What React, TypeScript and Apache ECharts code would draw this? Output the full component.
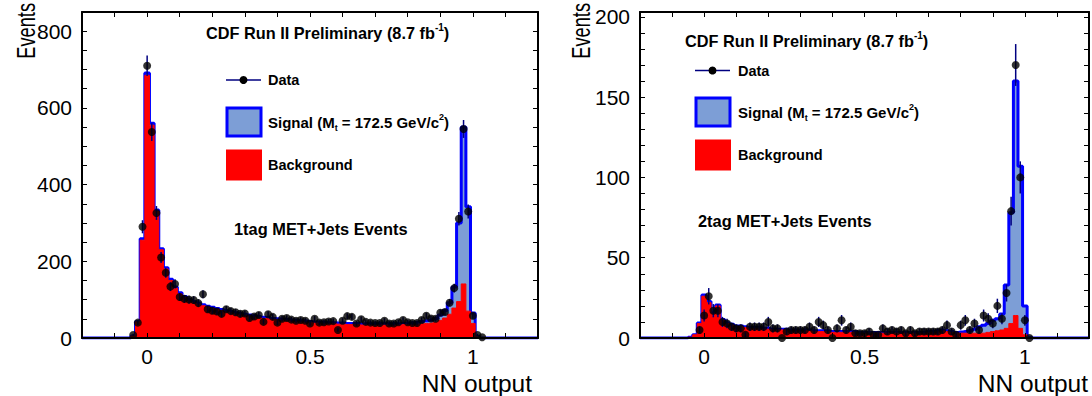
import React, { useEffect, useRef } from "react";
import * as echarts from "echarts";

// Bin layout: bins of width 1/70, contents listed for bins k = -3 .. 72 (centre k/70)
const BINS_PER_UNIT = 70;
const FIRST_BIN = -3;
const PAD_FIRST = -14; // x = -0.2
const PAD_LAST = 84; // x = 1.2

// ---- 1tag MET+Jets ----
const dataL = [
  8, 40, 290, 710, 537, 326, 210, 170, 134, 141, 107, 102, 100, 99, 91, 114,
  75, 71, 69, 63, 75, 70, 67, 63, 64, 52, 56, 60, 42, 62, 55, 40, 50, 52, 48, 45, 47, 45, 38, 50, 40, 41, 43, 44, 21,
  45, 57, 55, 38, 49, 42, 40, 39, 39, 45, 38, 38, 41, 47, 41, 39, 39, 47, 58, 51, 50,
  66, 68, 92, 130, 311, 545, 330, 58, 8, 2,
];
const bgL = [
  5, 42, 255, 685, 555, 330, 230, 180, 150, 130, 115, 105, 98, 92, 88, 84,
  80, 77, 74, 71, 68, 66, 63, 61, 59, 57, 55, 53, 51, 50, 48, 47, 46, 45, 44, 43, 42, 41, 40, 39, 39, 38, 37, 37, 36,
  36, 35, 35, 35, 34, 34, 34, 34, 34, 34, 34, 34, 34, 35, 35, 36, 36, 37, 38, 39, 41,
  46, 52, 62, 78, 95, 141, 70, 38, 3, 0,
];
const sigL = [
  0, 1, 4, 6, 5, 4, 3,
  3, 3, 3, 3, 3, 3, 3, 3, 3, 3, 3, 3, 3, 3, 3, 3, 3, 3, 3, 3, 3, 3, 3, 3, 3, 3,
  3, 3, 3, 3, 3, 3, 3, 3, 3, 3, 3, 3, 3, 3, 3, 3, 3, 3, 3, 3, 3, 3, 3, 3, 3, 3,
  4, 4, 5, 6, 7, 8, 10, 14, 20, 30, 55, 205, 409, 272, 27, 1, 0,
];

// ---- 2tag MET+Jets ----
const dataR = [
  null, null, 5, 14, 26, 17, 17, 10, 9, 7, 6, 6, 2, 7, 7, 7,
  7, 10, 6, 6, 0, 4, 5, 5, 5, 5, 7, 5, 10, 8, 5, 0, 6, 11, 5, 7, 3, 3, 3, 4, 2, 2, 6, 4, 5,
  4, 5, 3, 5, 3, 4, 4, 4, 4, 4, 5, 8, 4, 2, 8, 11, 5, 9, 5, 14, 12,
  9, 20, 12, 28, 79, 170, 100, 11, 0, null,
];
const bgR = [
  0.5, 2, 9, 26, 22, 15, 20, 11, 9, 8, 7, 7, 6.5, 6, 6, 6,
  5.5, 5.5, 5, 5, 5, 5, 4.5, 4.5, 4.5, 4.5, 4.5, 4, 4, 4, 4, 3.5, 3.5, 3.5, 3.5, 3.5, 3.5, 3, 3, 3, 3, 3, 3, 3, 3,
  3, 3, 3, 3, 3, 3, 3, 3.5, 3.5, 4, 4.5, 4, 3.5, 3, 3, 3, 3, 3, 3, 3, 3.5,
  4, 4.5, 5, 6, 9, 14, 6, 2, 0, 0,
];
const sigR = [
  0, 0, 0.3, 0.8, 0.8, 0.6, 0.6,
  0.5, 0.5, 0.5, 0.5, 0.5, 0.5, 0.5, 0.5, 0.5, 0.5, 0.5, 0.5, 0.5, 0.5, 0.5, 0.5, 0.5, 0.5, 0.5, 0.5, 0.5, 0.5, 0.5, 0.5, 0.5, 0.5,
  0.5, 0.5, 0.5, 0.5, 0.5, 0.5, 0.5, 0.5, 0.5, 0.5, 0.5, 0.5, 0.5, 0.5, 0.5, 0.5, 0.5, 0.5, 0.5, 0.5, 0.5, 0.5, 0.5, 0.5, 0.5, 0.5,
  0.8, 1, 1.5, 2.5, 4, 5, 5.5, 7, 7.5, 10, 27, 69, 146, 101, 18, 0.5, 0,
];

const xTickLabels = ["0", "0.5", "1"];

const FONT = "'Liberation Sans', Arial, Helvetica, sans-serif";
const RED = "#ff0000";
const LIGHTBLUE = "#7d9ed6";
const BLUE = "#0000ff";
const NAVY = "#000080";

function histPoints(arr: number[]) {
  const pts: number[][] = [];
  for (let k = PAD_FIRST; k <= PAD_LAST; k++) {
    const i = k - FIRST_BIN;
    const v = i >= 0 && i < arr.length ? arr[i] : 0;
    pts.push([k / BINS_PER_UNIT, v]);
  }
  return pts;
}

function dataPoints(arr: (number | null)[]) {
  const pts: number[][] = [];
  arr.forEach((v, i) => {
    if (v !== null) pts.push([(i + FIRST_BIN) / BINS_PER_UNIT, v]);
  });
  return pts;
}

function xLabel(v: number) {
  const t = Math.round(v * 10);
  if (t === 0) return xTickLabels[0];
  if (t === 5) return xTickLabels[1];
  if (t === 10) return xTickLabels[2];
  return "";
}

function panelSeries(
  xi: number,
  yi: number,
  data: (number | null)[],
  bg: number[],
  sig: number[]
) {
  const total = bg.map((b, i) => b + sig[i]);
  return [
    {
      type: "line",
      xAxisIndex: xi,
      yAxisIndex: yi,
      step: "middle",
      symbol: "none",
      data: histPoints(total),
      lineStyle: { color: BLUE, width: 3 },
      areaStyle: { color: LIGHTBLUE, opacity: 1 },
      z: 2,
      silent: true,
    },
    {
      type: "line",
      xAxisIndex: xi,
      yAxisIndex: yi,
      step: "middle",
      symbol: "none",
      data: histPoints(bg),
      lineStyle: { color: RED, width: 1 },
      areaStyle: { color: RED, opacity: 1 },
      z: 3,
      silent: true,
    },
    {
      type: "custom",
      xAxisIndex: xi,
      yAxisIndex: yi,
      data: dataPoints(data),
      z: 4,
      silent: true,
      renderItem: (params: any, api: any) => {
        const x = api.value(0);
        const y = api.value(1);
        const e = Math.sqrt(y);
        const p1 = api.coord([x, y - e]);
        const p2 = api.coord([x, y + e]);
        return {
          type: "line",
          shape: { x1: p1[0], y1: p1[1], x2: p2[0], y2: p2[1] },
          style: { stroke: NAVY, lineWidth: 1.5 },
        };
      },
    },
    {
      type: "scatter",
      xAxisIndex: xi,
      yAxisIndex: yi,
      data: dataPoints(data),
      symbol: "circle",
      symbolSize: 8,
      itemStyle: { color: "#000" },
      z: 5,
      silent: true,
    },
  ];
}

function xAxes(gridIndex: number) {
  const common = {
    gridIndex,
    type: "value",
    min: -0.2,
    max: 1.2,
    interval: 0.1,
    splitLine: { show: false },
    axisLine: { show: true, onZero: false, lineStyle: { color: "#000", width: 2 } },
    axisTick: { show: true, inside: true, length: 5, lineStyle: { color: "#000", width: 1 } },
    z: 10,
  };
  return [
    {
      ...common,
      position: "bottom",
      axisLabel: {
        show: true,
        formatter: xLabel,
        color: "#000",
        fontFamily: FONT,
        fontSize: 21,
        margin: 8,
        showMinLabel: true,
        showMaxLabel: true,
      },
    },
    { ...common, position: "top", axisLabel: { show: false } },
  ];
}

function yAxes(gridIndex: number, max: number, interval: number, labelEvery: number) {
  const common = {
    gridIndex,
    type: "value",
    min: 0,
    max,
    interval,
    splitLine: { show: false },
    axisLine: { show: true, onZero: false, lineStyle: { color: "#000", width: 2 } },
    axisTick: { show: true, inside: true, length: 5, lineStyle: { color: "#000", width: 1 } },
    z: 10,
  };
  return [
    {
      ...common,
      position: "left",
      axisLabel: {
        show: true,
        formatter: (v: number) => (Math.round(v) % labelEvery === 0 ? String(Math.round(v)) : ""),
        color: "#000",
        fontFamily: FONT,
        fontSize: 21,
        margin: 10,
        showMaxLabel: true,
      },
    },
    { ...common, position: "right", axisLabel: { show: false } },
  ];
}

function txt(x: number, y: number, text: string, fontSize: number, bold: boolean, align = "left", extra: any = {}) {
  return {
    type: "text",
    x,
    y,
    z: 100,
    ...extra,
    style: {
      text,
      fontFamily: FONT,
      fontSize,
      fontWeight: bold ? "bold" : "normal",
      fill: "#000",
      align,
      verticalAlign: "middle",
      textAlign: align,
      textVerticalAlign: "middle",
    },
  };
}

const richLegend = {
  b: { fontFamily: FONT, fontSize: 15, fontWeight: "bold", color: "#000", lineHeight: 20, verticalAlign: "middle" },
  sup: { fontFamily: FONT, fontSize: 9, fontWeight: "bold", color: "#000", verticalAlign: "top" },
  sub: { fontFamily: FONT, fontSize: 9, fontWeight: "bold", color: "#000", verticalAlign: "bottom" },
};
const richTitle = {
  b: { fontFamily: FONT, fontSize: 16.3, fontWeight: "bold", color: "#000", lineHeight: 21, verticalAlign: "middle" },
  sup: { fontFamily: FONT, fontSize: 10, fontWeight: "bold", color: "#000", verticalAlign: "top" },
};

function richText(x: number, y: number, text: string, rich: any) {
  return {
    type: "text",
    x,
    y,
    z: 100,
    style: {
      text,
      rich,
      fill: "#000",
      align: "left",
      verticalAlign: "middle",
      textAlign: "left",
      textVerticalAlign: "middle",
    },
  };
}

function legend(x0: number, yData: number, ySig: number, yBg: number, textX: number) {
  return [
    {
      type: "line",
      z: 100,
      shape: { x1: x0, y1: yData, x2: x0 + 35, y2: yData },
      style: { stroke: NAVY, lineWidth: 1.5 },
    },
    { type: "circle", z: 101, shape: { cx: x0 + 17.5, cy: yData, r: 4 }, style: { fill: "#000" } },
    txt(textX, yData, "Data", 14.5, true),
    {
      type: "rect",
      z: 100,
      shape: { x: x0 + 1, y: ySig - 14, width: 34, height: 28 },
      style: { fill: LIGHTBLUE, stroke: BLUE, lineWidth: 3 },
    },
    richText(textX, ySig, "{b|Signal (M}{sub|t}{b| = 172.5 GeV/c}{sup|2}{b|)}", richLegend),
    { type: "rect", z: 100, shape: { x: x0, y: yBg - 15.5, width: 36, height: 31 }, style: { fill: RED } },
    txt(textX, yBg, "Background", 14.5, true),
  ];
}

export default function App() {
  const ref = useRef<HTMLDivElement>(null);
  useEffect(() => {
    if (!ref.current) return;
    const chart = echarts.init(ref.current, null, { renderer: "svg" });
    const option: any = {
      animation: false,
      backgroundColor: "#fff",
      textStyle: { fontFamily: FONT },
      grid: [
        { left: 82, top: 12, width: 456, height: 326, containLabel: false },
        { left: 640, top: 12, width: 456, height: 326, containLabel: false },
      ],
      xAxis: [...xAxes(0), ...xAxes(1)],
      yAxis: [...yAxes(0, 850, 50, 200), ...yAxes(1, 203, 10, 50)],
      series: [
        ...panelSeries(0, 0, dataL, bgL, sigL),
        ...panelSeries(2, 2, dataR, bgR, sigR),
      ],
      graphic: [
        // axis titles
        txt(26, 3, "Events", 26, false, "right", { rotation: Math.PI / 2, scaleX: 0.7 }),
        txt(581, 3, "Events", 26, false, "right", { rotation: Math.PI / 2, scaleX: 0.7 }),
        txt(532, 383, "NN output", 24.5, false, "right"),
        txt(1088, 383, "NN output", 24.5, false, "right"),
        // left panel texts
        richText(206, 33, "{b|CDF Run II Preliminary (8.7 fb}{sup|-1}{b|)}", richTitle),
        ...legend(226, 80, 122, 165, 268),
        txt(234, 229, "1tag MET+Jets Events", 16.4, true),
        // right panel texts
        richText(685, 41, "{b|CDF Run II Preliminary (8.7 fb}{sup|-1}{b|)}", richTitle),
        ...legend(695, 70.5, 112, 155, 738),
        txt(698, 221, "2tag MET+Jets Events", 16.4, true),
      ],
    };
    chart.setOption(option);
    return () => chart.dispose();
  }, []);
  return (
    <div
      ref={ref}
      style={{ position: "absolute", left: 0, top: 0, width: 1092, height: 396, background: "#fff" }}
    />
  );
}
